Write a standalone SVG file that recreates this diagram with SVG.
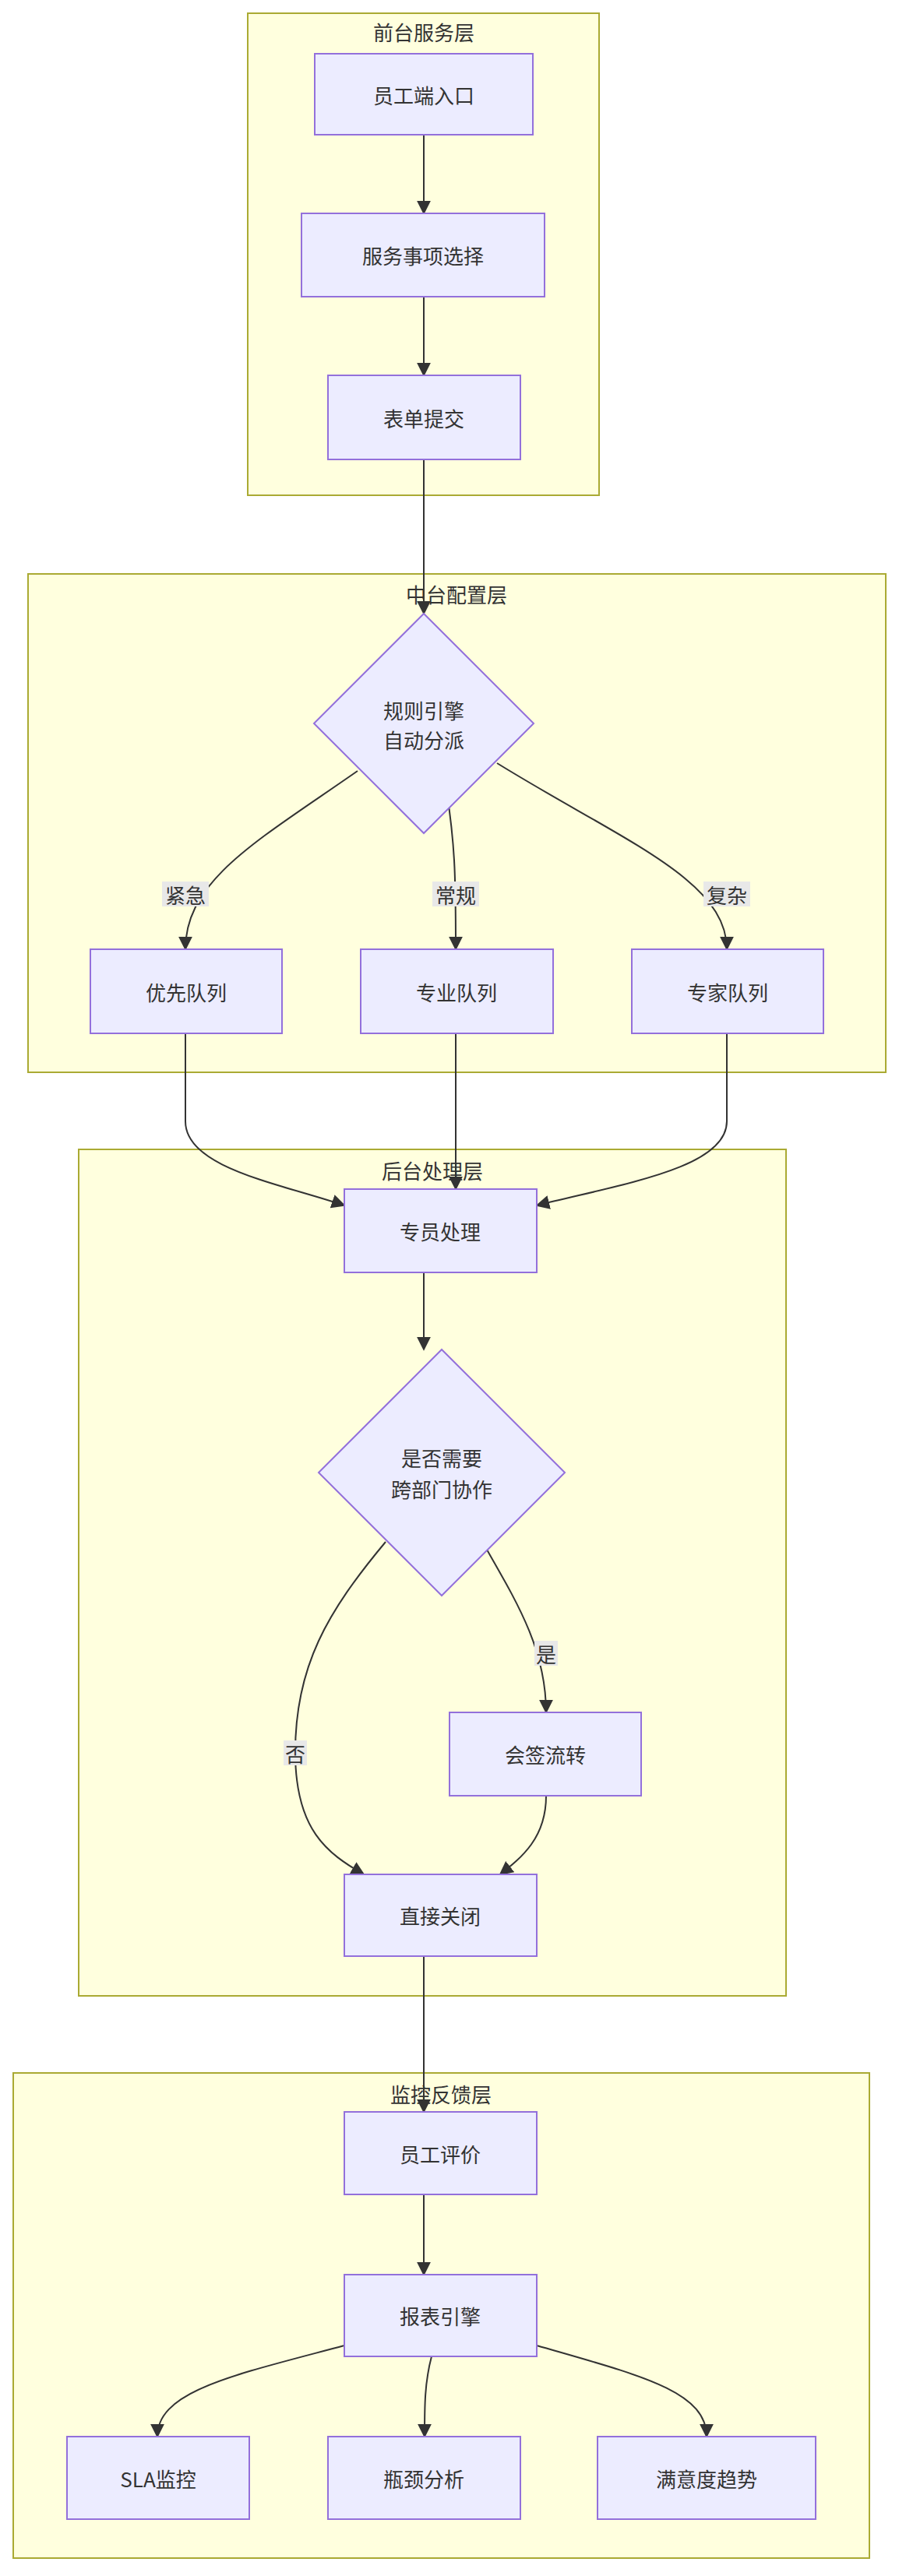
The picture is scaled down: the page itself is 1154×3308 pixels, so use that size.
<svg xmlns="http://www.w3.org/2000/svg" width="1154" height="3308" viewBox="0 0 1154 3308">
<style>
.c{fill:#ffffde;stroke:#aaaa33;stroke-width:2}
.n{fill:#ececff;stroke:#9370db;stroke-width:2}
text{font-family:"Noto Sans CJK SC","Liberation Sans",sans-serif;font-size:26px;fill:#333;text-anchor:middle;dominant-baseline:central}
.e{fill:none;stroke:#333;stroke-width:2;marker-end:url(#a)}
.lb{fill:#e8e8e8}
</style>
<defs><marker id="a" viewBox="0 0 10 10" refX="9" refY="5" markerWidth="9" markerHeight="9" orient="auto"><path d="M0,0L10,5L0,10z" fill="#333"/></marker></defs>
<g id="sg1"><rect class="c" x="318" y="17" width="451" height="619"/><text x="544" y="40">前台服务层</text></g>
<g id="sg2"><rect class="c" x="36" y="737" width="1101" height="640"/><text x="586" y="762">中台配置层</text></g>
<g id="sg3"><rect class="c" x="101" y="1476" width="908" height="1087"/><text x="555" y="1502">后台处理层</text></g>
<g id="sg4"><rect class="c" x="17" y="2662" width="1099" height="623"/><text x="566" y="2688">监控反馈层</text></g>
<g id="edges">
<path class="e" d="M544,173V274"/>
<path class="e" d="M544,381V482"/>
<path class="e" d="M544,590V788"/>
<path class="e" d="M459,990C330,1080 238,1130 238,1219"/>
<path class="e" d="M569,990C585,1080 585,1130 585,1219"/>
<path class="e" d="M638,980C800,1080 933,1130 933,1219"/>
<path class="e" d="M238,1327V1440C238,1500 360,1520 442,1548"/>
<path class="e" d="M585,1327V1527"/>
<path class="e" d="M933,1327V1440C933,1500 800,1520 689,1548"/>
<path class="e" d="M544,1634V1733"/>
<path class="e" d="M495,1980C420,2070 379,2140 379,2250C379,2350 420,2380 467,2407"/>
<path class="e" d="M625,1990C665,2060 701,2120 701,2199"/>
<path class="e" d="M701,2306C701,2360 670,2385 642,2407"/>
<path class="e" d="M544,2512V2712"/>
<path class="e" d="M544,2818V2921"/>
<path class="e" d="M442,3012C300,3050 202,3070 202,3129"/>
<path class="e" d="M554,3026C545,3060 545,3090 545,3129"/>
<path class="e" d="M689,3012C820,3050 907,3070 907,3129"/>
</g>
<g id="labels">
<rect class="lb" x="208" y="1132" width="60" height="32"/><text x="238" y="1148">紧急</text>
<rect class="lb" x="555" y="1132" width="60" height="32"/><text x="585" y="1148">常规</text>
<rect class="lb" x="903" y="1132" width="60" height="32"/><text x="933" y="1148">复杂</text>
<rect class="lb" x="686" y="2107" width="30" height="32"/><text x="701" y="2123">是</text>
<rect class="lb" x="364" y="2235" width="30" height="32"/><text x="379" y="2251">否</text>
</g>
<g id="n1"><rect class="n" x="404" y="69" width="280" height="104"/><text x="544" y="121">员工端入口</text></g>
<g id="n2"><rect class="n" x="387" y="274" width="312" height="107"/><text x="543" y="327">服务事项选择</text></g>
<g id="n3"><rect class="n" x="421" y="482" width="247" height="108"/><text x="544" y="536">表单提交</text></g>
<g id="d1"><polygon class="n" points="544,788 685,929 544,1070 403,929"/><text x="544" y="911">规则引擎</text><text x="544" y="949">自动分派</text></g>
<g id="q1"><rect class="n" x="116" y="1219" width="246" height="108"/><text x="239" y="1273">优先队列</text></g>
<g id="q2"><rect class="n" x="463" y="1219" width="247" height="108"/><text x="586" y="1273">专业队列</text></g>
<g id="q3"><rect class="n" x="811" y="1219" width="246" height="108"/><text x="934" y="1273">专家队列</text></g>
<g id="p1"><rect class="n" x="442" y="1527" width="247" height="107"/><text x="565" y="1580">专员处理</text></g>
<g id="d2"><polygon class="n" points="567,1733 725,1891 567,2049 409,1891"/><text x="567" y="1871">是否需要</text><text x="567" y="1911">跨部门协作</text></g>
<g id="p2"><rect class="n" x="577" y="2199" width="246" height="107"/><text x="700" y="2252">会签流转</text></g>
<g id="p3"><rect class="n" x="442" y="2407" width="247" height="105"/><text x="565" y="2459">直接关闭</text></g>
<g id="m1"><rect class="n" x="442" y="2712" width="247" height="106"/><text x="565" y="2765">员工评价</text></g>
<g id="m2"><rect class="n" x="442" y="2921" width="247" height="105"/><text x="565" y="2973">报表引擎</text></g>
<g id="m3"><rect class="n" x="86" y="3129" width="234" height="106"/><text x="203" y="3182">SLA监控</text></g>
<g id="m4"><rect class="n" x="421" y="3129" width="247" height="106"/><text x="544" y="3182">瓶颈分析</text></g>
<g id="m5"><rect class="n" x="767" y="3129" width="280" height="106"/><text x="907" y="3182">满意度趋势</text></g>
</svg>
